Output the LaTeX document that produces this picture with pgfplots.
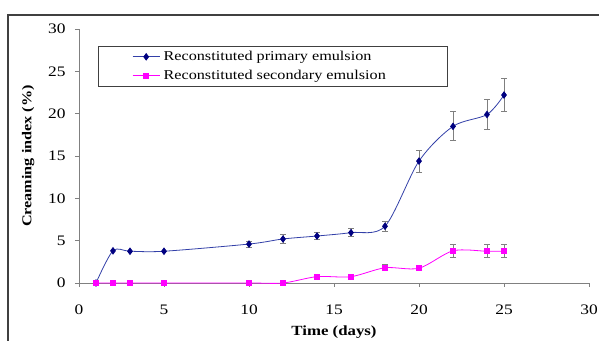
\documentclass[border=0pt]{standalone}
\usepackage{pgfplots}
\pgfplotsset{compat=1.18}
\usepackage{fontspec}
\setmainfont{Liberation Serif}[FakeStretch=1.2]
\definecolor{navy}{HTML}{000080}
\definecolor{navyline}{HTML}{3340A8}
\definecolor{mag}{HTML}{FF00FF}
\definecolor{axgray}{HTML}{808080}
\definecolor{errgray}{HTML}{7F7F7F}
\definecolor{framegray}{HTML}{404040}
\begin{document}
\begin{tikzpicture}
\useasboundingbox (-79bp,-58bp) rectangle (520bp,283bp);
\draw[framegray, line width=2bp] (-71bp,-70bp) -- (-71bp,268bp) -- (540bp,268bp);
\begin{axis}[
  at={(0,0)}, anchor=origin,
  scale only axis, width=510bp, height=254bp,
  xmin=0, xmax=30, ymin=0, ymax=30,
  xtick={0,5,...,30}, ytick={0,5,...,30},
  axis lines=left,
  axis line style={axgray, line width=0.8bp, -},
  tick style={axgray, line width=0.8bp},
  tick align=outside,
  major tick length=4bp,
  tick label style={font=\fontsize{14.5bp}{16bp}\selectfont},
  /pgf/number format/assume math mode=true,
  xticklabel style={yshift=-14bp},
  yticklabel style={xshift=-6bp},
  xlabel={\textbf{Time (days)}},
  ylabel={\textbf{Creaming index (\%)}},
  xlabel style={font=\fontsize{14bp}{16bp}\selectfont, at={(axis description cs:0.5,0)}, anchor=north, yshift=-39bp},
  ylabel style={font=\fontsize{13.5bp}{15bp}\selectfont, at={(axis description cs:0,0.5)}, anchor=south, yshift=41bp},
  legend style={at={(axis description cs:0.037,0.933)}, anchor=north west,
    draw=black!75, line width=0.8bp, inner xsep=34bp, inner ysep=3bp,
    font=\fontsize{13.5bp}{15bp}\selectfont, row sep=4bp,
    nodes={inner xsep=3.5bp}},
  legend cell align=left,
  legend image code/.code={
    \draw[mark repeat=2,mark phase=2,#1] plot coordinates {(0bp,0bp) (13.5bp,0bp) (27bp,0bp)};},
  clip=false,
]
% error bars
\addplot[draw=none, forget plot, error bars/.cd, y dir=both, y explicit,
  error bar style={errgray, line width=1bp}, error mark options={errgray, mark size=3bp, line width=1bp, rotate=90}]
  coordinates {(10,4.6)+-(0,0.35) (12,5.2)+-(0,0.55) (14,5.55)+-(0,0.45) (16,5.95)+-(0,0.45)
   (18,6.7)+-(0,0.6) (20,14.4)+-(0,1.3) (22,18.5)+-(0,1.7) (24,19.9)+-(0,1.8) (25,22.2)+-(0,2.0)};
\addplot[draw=none, forget plot, error bars/.cd, y dir=both, y explicit,
  error bar style={errgray, line width=1bp}, error mark options={errgray, mark size=3bp, line width=1bp, rotate=90}]
  coordinates {(18,1.8)+-(0,0.35) (20,1.8)+-(0,0.3) (22,3.8)+-(0,0.8) (24,3.8)+-(0,0.75) (25,3.8)+-(0,0.75)};
\addplot[navyline, line width=0.8bp, smooth, tension=0.5, mark=diamond*, mark size=3.2bp,
  mark options={navy, fill=navy, solid}]
  coordinates {(1,0) (2,3.8) (3,3.75) (5,3.75) (10,4.6) (12,5.2) (14,5.55) (16,5.95) (18,6.7) (20,14.4) (22,18.5) (24,19.9) (25,22.2)};
\addlegendentry{\makebox[246bp][l]{Reconstituted primary emulsion}}
\addplot[mag, line width=0.8bp, smooth, tension=0.5, mark=square*, mark size=2.6bp,
  mark options={mag, fill=mag, solid}]
  coordinates {(1,0) (2,0) (3,0) (5,0) (10,0) (12,0) (14,0.75) (16,0.75) (18,1.8) (20,1.75) (22,3.8) (24,3.75) (25,3.75)};
\addlegendentry{\makebox[246bp][l]{Reconstituted secondary emulsion}}
\end{axis}
\end{tikzpicture}
\end{document}
